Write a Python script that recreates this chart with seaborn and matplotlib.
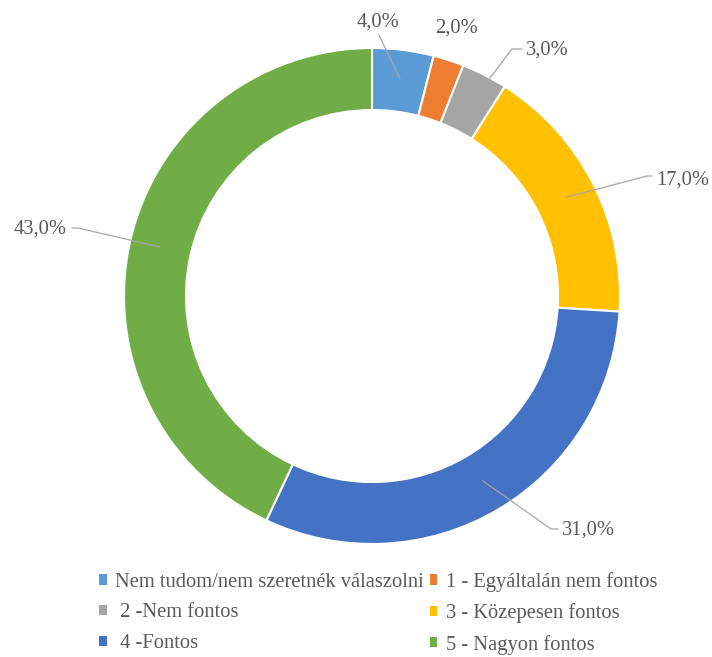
import matplotlib
matplotlib.use("Agg")
import matplotlib.pyplot as plt
from matplotlib.patches import Patch
import seaborn as sns

# Survey answers and their shares (%)
categories = [
    "Nem tudom/nem szeretnék válaszolni",
    "1 - Egyáltalán nem fontos",
    " 2 -Nem fontos",
    "3 - Közepesen fontos",
    " 4 -Fontos",
    "5 - Nagyon fontos",
]
values = [4.0, 2.0, 3.0, 17.0, 31.0, 43.0]
colors = ["#5B9BD5", "#ED7D31", "#A5A5A5", "#FFC000", "#4472C4", "#70AD47"]

sns.set_theme(style="white")
plt.rcParams["font.family"] = ["Liberation Serif", "DejaVu Serif"]

W, H = 712, 657
fig = plt.figure(figsize=(W / 100, H / 100), dpi=100)
ax = fig.add_axes([0, 0, 1, 1])

# work in pixel units, y measured downward from the top
def yp(y):
    return H - y

cx, cy = 372, 296
R, ring = 248, 62

ax.pie(
    values,
    colors=colors,
    startangle=90,
    counterclock=False,
    radius=R,
    center=(cx, yp(cy)),
    wedgeprops=dict(width=ring, edgecolor="white", linewidth=1.5),
)
ax.set_xlim(0, W)
ax.set_ylim(0, H)
ax.set_aspect("equal")
ax.axis("off")

text_color = "#595959"
line_color = "#A6A6A6"
fs = 14.8

# label placement: (text centre, leader polyline) per slice
placements = [
    ((378, 22), [(379, 35), (400, 79)]),
    ((457, 28), None),
    ((547, 50), [(522, 49), (512, 49), (490, 78)]),
    ((683, 180), [(652, 176), (647, 176), (567, 197)]),
    ((588, 530), [(558, 529), (551, 529), (483, 481)]),
    ((40, 229), [(72, 228), (78, 228), (160, 247)]),
]

for v, (pos, leader) in zip(values, placements):
    lab = f"{v:.1f}%".replace(".", ",")
    ax.text(pos[0], yp(pos[1]), lab, ha="center", va="center",
            fontsize=fs, color=text_color)
    if leader:
        xs = [p[0] for p in leader]
        ys = [yp(p[1]) for p in leader]
        ax.plot(xs, ys, color=line_color, lw=0.9)

# legend laid out row by row in two columns
order = [0, 2, 4, 1, 3, 5]
handles = [Patch(facecolor=colors[i], edgecolor="none") for i in order]
labels = [categories[i] for i in order]
fig.legend(
    handles, labels,
    ncol=2,
    loc="upper left",
    bbox_to_anchor=(99 / W, 1 - 572 / H),
    frameon=False,
    fontsize=fs,
    labelcolor=text_color,
    handlelength=0.38,
    handleheight=0.38,
    handletextpad=0.4,
    columnspacing=0.28,
    labelspacing=0.56,
    borderpad=0,
    borderaxespad=0,
)

fig.savefig("out.png", dpi=100, facecolor="white")
